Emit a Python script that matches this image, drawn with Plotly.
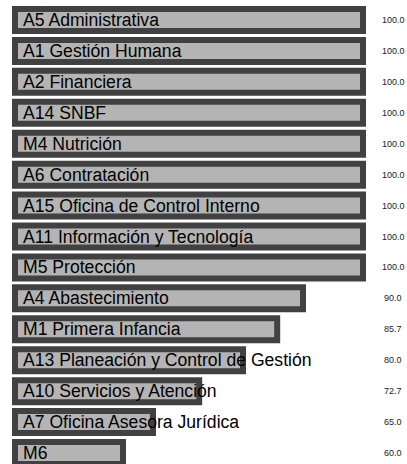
import plotly.graph_objects as go

categories = [
    "A5 Administrativa",
    "A1 Gestión Humana",
    "A2 Financiera",
    "A14 SNBF",
    "M4 Nutrición",
    "A6 Contratación",
    "A15 Oficina de Control Interno",
    "A11 Información y Tecnología",
    "M5 Protección",
    "A4 Abastecimiento",
    "M1 Primera Infancia",
    "A13 Planeación y Control de Gestión",
    "A10 Servicios y Atención",
    "A7 Oficina Asesora Jurídica",
    "M6",
]
values = [100.0, 100.0, 100.0, 100.0, 100.0, 100.0, 100.0, 100.0, 100.0,
          90.0, 85.7, 80.0, 72.7, 65.0, 60.0]
value_labels = [f"{v:.1f}" for v in values]

BASE = 42
FONT = "Liberation Sans, Arial, sans-serif"
W, H = 407, 464

fig = go.Figure()
fig.add_trace(go.Bar(
    y=categories,
    x=[v - BASE for v in values],
    base=BASE,
    orientation="h",
    width=0.711,
    marker=dict(color="#b4b4b4", line=dict(color="#414141", width=6)),
    hoverinfo="skip",
    showlegend=False,
))

annotations = []
for cat in categories:
    annotations.append(dict(
        x=BASE, y=cat, xref="x", yref="y", text=cat, showarrow=False,
        xanchor="left", yanchor="middle", xshift=6,
        font=dict(family=FONT, size=17.6, color="#000000"),
    ))
for cat, lab in zip(categories, value_labels):
    annotations.append(dict(
        x=393 / W, y=cat, xref="paper", yref="y", text=lab, showarrow=False,
        xanchor="center", yanchor="middle",
        font=dict(family=FONT, size=9, color="#222222"),
    ))

fig.update_layout(
    width=W, height=H,
    margin=dict(l=0, r=0, t=0, b=0),
    paper_bgcolor="white", plot_bgcolor="white",
    xaxis=dict(range=[39.5, 107.333], visible=False, fixedrange=True),
    yaxis=dict(type="category", range=[14.355, -0.6466], visible=False,
               fixedrange=True),
    annotations=annotations,
    showlegend=False,
)

fig.write_html(
    "out.html",
    config={"displayModeBar": False},
    post_script="document.body.style.margin='0';document.body.style.overflow='hidden';",
)
